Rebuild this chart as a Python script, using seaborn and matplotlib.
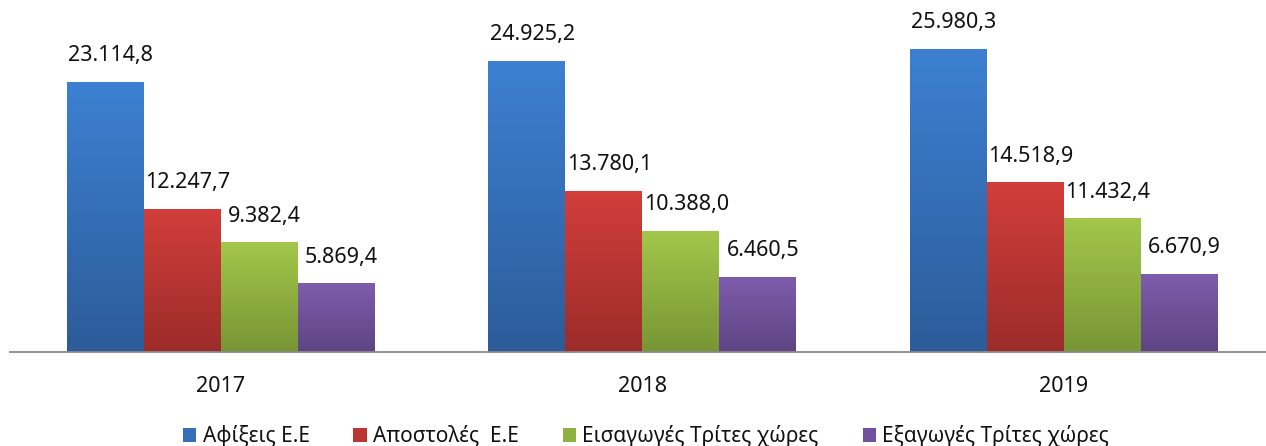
import matplotlib.pyplot as plt
import seaborn as sns
import numpy as np
import pandas as pd
from matplotlib.colors import LinearSegmentedColormap
from matplotlib.patches import Patch

# δεδομένα
years = ['2017', '2018', '2019']
series = ['Αφίξεις Ε.Ε', 'Αποστολές  Ε.Ε', 'Εισαγωγές Τρίτες χώρες', 'Εξαγωγές Τρίτες χώρες']
arrivals = [23114.8, 24925.2, 25980.3]
dispatches = [12247.7, 13780.1, 14518.9]
imports_third = [9382.4, 10388.0, 11432.4]
exports_third = [5869.4, 6460.5, 6670.9]

# χρώματα (πάνω, κάτω) για τη διαβάθμιση
top_colors = ['#3d80d2', '#d23e3b', '#a3c74b', '#7e5cac']
bottom_colors = ['#2c5c99', '#9b2c2a', '#779634', '#5e4483']
mid_colors = ['#356fb8', '#bb3633', '#90b141', '#6f51a0']

df = pd.DataFrame({
    'year': years * 4,
    'series': [s for s in series for _ in years],
    'value': arrivals + dispatches + imports_third + exports_third,
})

sns.set_theme(style='white')
plt.rcParams['font.family'] = ['Noto Sans', 'DejaVu Sans']

fig = plt.figure(figsize=(12.66, 4.46), dpi=100)
ax = fig.add_axes([10 / 1266, 94 / 446, 1256 / 1266, 352 / 446])

sns.barplot(data=df, x='year', y='value', hue='series', hue_order=series,
            palette=mid_colors, width=0.73, ax=ax, legend=False, errorbar=None)

# διαβάθμιση χρώματος σε κάθε μπάρα
grad = np.linspace(1, 0, 256).reshape(-1, 1)
for k, cont in enumerate(ax.containers):
    cmap = LinearSegmentedColormap.from_list(f'g{k}', [bottom_colors[k], top_colors[k]])
    for bar in cont:
        x0, y0 = bar.get_x(), bar.get_y()
        w, h = bar.get_width(), bar.get_height()
        bar.set_facecolor('none')
        bar.set_edgecolor('none')
        im = ax.imshow(grad, extent=[x0, x0 + w, y0, y0 + h], aspect='auto',
                       cmap=cmap, vmin=0, vmax=1, zorder=2)
        im.set_clip_path(bar)

# ετικέτες τιμών
for cont in ax.containers:
    for bar in cont:
        v = bar.get_height()
        txt = f'{v:,.1f}'.replace(',', 'X').replace('.', ',').replace('X', '.')
        ax.annotate(txt, xy=(bar.get_x() + bar.get_width() / 2, v), xytext=(4, 15),
                    textcoords='offset points', ha='center', va='baseline',
                    fontsize=15.5, color='#111111')

ax.set_xlim(-0.5, 2.48)
ax.set_ylim(0, 30135)
ax.set_xlabel('')
ax.set_ylabel('')
ax.set_yticks([])
ax.tick_params(axis='x', length=0, pad=17, labelsize=15.5, labelcolor='#111111')
for side in ['top', 'left', 'right']:
    ax.spines[side].set_visible(False)
ax.spines['bottom'].set_color('#8a8a8a')
ax.spines['bottom'].set_linewidth(1.3)

handles = [Patch(facecolor=c, edgecolor='none', label=s) for c, s in zip(mid_colors, series)]
fig.legend(handles=handles, loc='center', bbox_to_anchor=(646 / 1266, 1 - 436 / 446),
           ncol=4, frameon=False, fontsize=15, handlelength=0.65, handleheight=0.65,
           handletextpad=0.3, columnspacing=2.1, labelcolor='#111111')

plt.savefig('out.png', dpi=100)
